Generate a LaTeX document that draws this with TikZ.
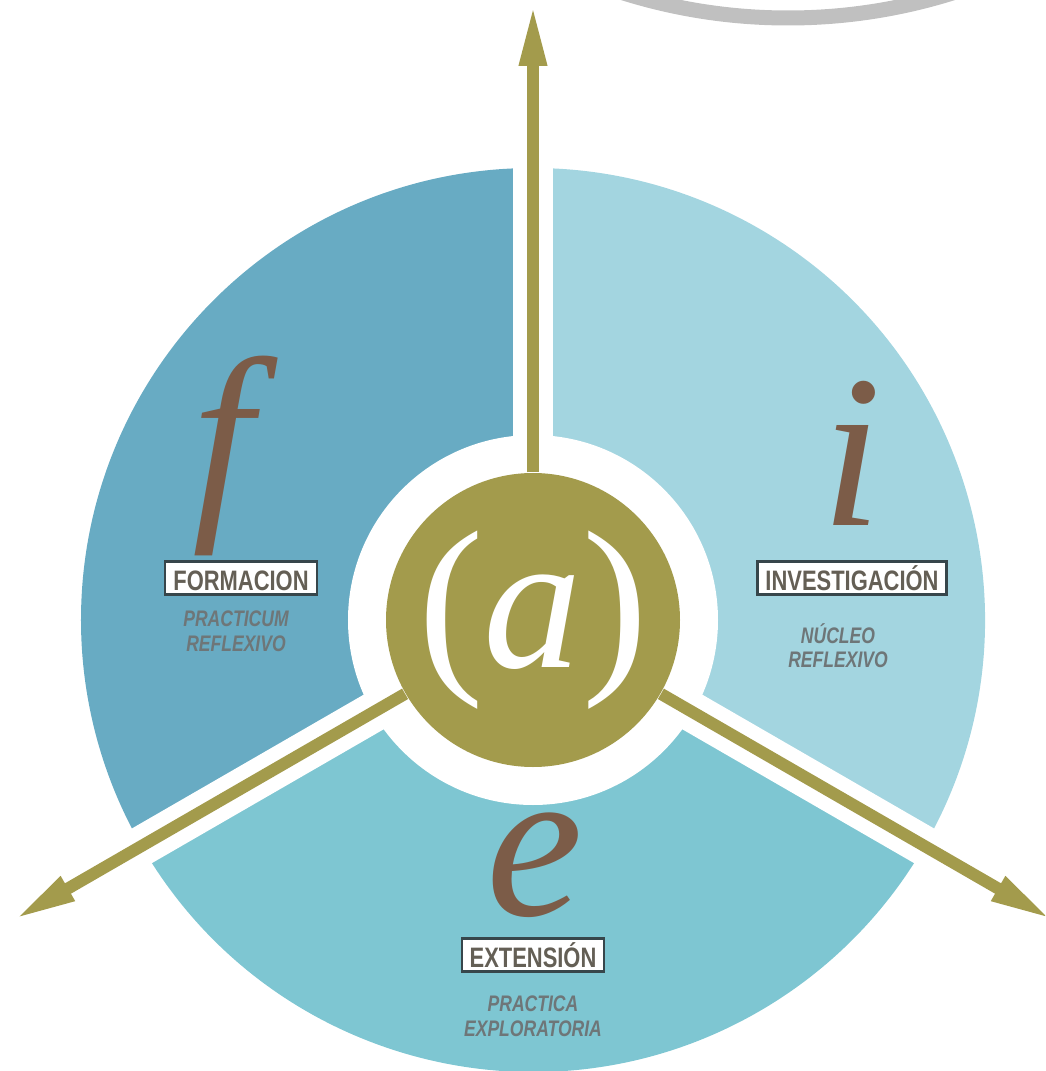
\documentclass[tikz,border=0pt]{standalone}
\usepackage{fontspec}
\setmainfont{Liberation Serif}
\newfontfamily\narrowsf[FakeStretch=0.78]{Liberation Sans}
\usepackage{xcolor}
\usetikzlibrary{arrows.meta,positioning}
\definecolor{formcol}{HTML}{68ABC3}
\definecolor{invcol}{HTML}{A3D5E0}
\definecolor{extcol}{HTML}{7EC6D2}
\definecolor{goldcol}{HTML}{A39B4C}
\definecolor{lettercol}{HTML}{7C5C48}
\definecolor{tagcol}{HTML}{645F55}
\definecolor{framecol}{HTML}{37464B}
\definecolor{subcol}{HTML}{6E7678}
\definecolor{arccol}{HTML}{C0C0C0}

\begin{document}
\begin{tikzpicture}[
  tag/.style={draw=framecol, line width=0.6pt, fill=white, text=tagcol, inner xsep=0.08cm, inner ysep=0.045cm,
    text height=0.24cm, text depth=0pt, font=\narrowsf\bfseries\fontsize{8}{9}\selectfont},
  sub/.style={align=center, inner sep=0pt, text=subcol, font=\narrowsf\bfseries\itshape\fontsize{6.4}{6.9}\selectfont},
  glyph/.style={inner sep=0pt, anchor=base, text=lettercol, font=\itshape\fontsize{62}{62}\selectfont},
  hub/.style={circle, fill=goldcol, minimum size=2.94cm, inner sep=0pt, text=white, font=\fontsize{56}{56}\selectfont},
  arr/.style={-{Triangle[length=0.63cm, width=0.25cm]}, line width=0.12cm, draw=goldcol}
]
\useasboundingbox (-5.33,-4.51) rectangle (5.12,6.20);
\clip (-5.33,-4.51) rectangle (5.12,6.20);

\draw[arccol, line width=0.15cm] (2.55,11.52) circle[radius=5.50];

\foreach \a/\c in {90/formcol, -30/invcol, 210/extcol}
  \fill[\c] (0,0) -- (\a:4.52) arc[start angle=\a, delta angle=120, radius=4.52] -- cycle;
\foreach \a in {90,210,330}
  \draw[white, line width=0.4cm] (0,0) -- (\a:4.8);
\fill[white] (0,0) circle[radius=1.85];

\node[hub] (hub) at (0,0) {(\textit{a})};

\coordinate (tipN) at (90:6.17);
\coordinate (tipL) at (210:6.0);
\coordinate (tipR) at (330:6.0);
\draw[arr] (hub) -- (tipN);
\draw[arr] (hub) -- (tipL);
\draw[arr] (hub) -- (tipR);

\node[glyph] (fchar) at (-3.10,1.10) {f};
\node[glyph] (ichar) at (3.19,0.94) {i};
\node[glyph] (echar) at (0.02,-2.95) {e};

\node[tag] (formbox) at (-2.92,0.42) {FORMACION};
\node[tag] (invbox) at (3.19,0.42) {INVESTIGACIÓN};
\node[tag] (extbox) at (0,-3.35) {EXTENSIÓN};

\node[sub, below=0.15cm of formbox, xshift=-0.05cm] (formsub) {PRACTICUM\\REFLEXIVO};
\node[sub, below=0.27cm of invbox, xshift=-0.14cm] (invsub) {NÚCLEO\\REFLEXIVO};
\node[sub, below=0.23cm of extbox] (extsub) {PRACTICA\\EXPLORATORIA};
\end{tikzpicture}
\end{document}
